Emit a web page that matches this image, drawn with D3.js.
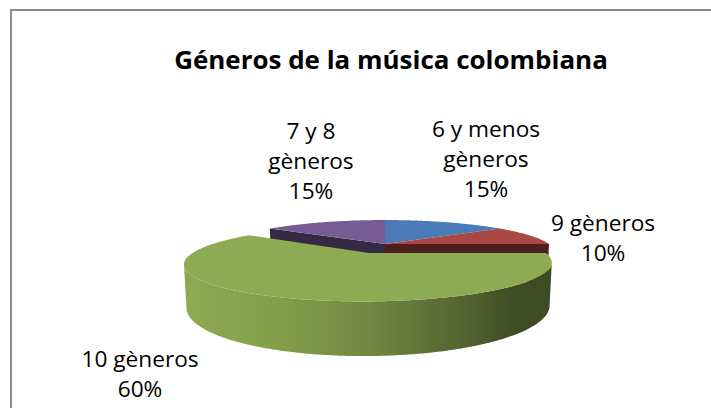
<!DOCTYPE html>
<html>
<head>
<meta charset="utf-8">
<script src="https://cdn.jsdelivr.net/npm/d3@7"></script>
<style>
  body { margin: 0; background: #fff; }
  svg { display: block; }
</style>
</head>
<body>
<svg id="chart" width="711" height="408"></svg>
<script>
// data
const title = "Géneros de la música colombiana";
const categories = ["6 y menos gèneros", "9 gèneros", "10 gèneros", "7 y 8 gèneros"];
const labelLines = [["6 y menos", "gèneros"], ["9 gèneros"], ["10 gèneros"], ["7 y 8", "gèneros"]];
const values = [15, 10, 60, 15];
const explode = [0, 0, 0.29, 0];
const colors = ["#4a7bb8", "#aa4643", "#8dab52", "#775b95"];

// layout (first baseline of each label block)
const labelPos = [[486, 137], [603, 231], [140, 367], [311, 139]];
const lineGap = 30;
const textStretch = 1.08;

const svg = d3.select("#chart");

// chart frame
svg.append("rect")
  .attr("x", 11).attr("y", 10)
  .attr("width", 720).attr("height", 420)
  .attr("fill", "#fff")
  .attr("stroke", "#8c8c8c")
  .attr("stroke-width", 2);

// simple perspective camera for the 3d pie
const cam = { cx: 385, cy: 244, D: 3.8, phi: 10.6 * Math.PI / 180 };
cam.f = 164 * cam.D;
const H = 0.235;
const cphi = Math.cos(cam.phi), sphi = Math.sin(cam.phi);
const camPos = [0, -cam.D * cphi, cam.D * sphi];

function project(X, Y, Z) {
  const d = cam.D + Y * cphi - Z * sphi;
  const up = Z * cphi + Y * sphi;
  return [cam.cx + cam.f * X / d, cam.cy - cam.f * up / d];
}

const pie = d3.pie().sort(null).value(d => d)(values);

const slices = pie.map((p, i) => {
  const mid = (p.startAngle + p.endAngle) / 2;
  const ox = explode[i] * Math.sin(mid), oy = explode[i] * Math.cos(mid);
  return { i, a0: p.startAngle, a1: p.endAngle, ox, oy, depth: cam.D + oy * cphi };
});

function rim(s, a, Z) {
  return project(s.ox + Math.sin(a), s.oy + Math.cos(a), Z);
}
function arcPts(s, a0, a1, Z) {
  const n = Math.max(2, Math.ceil((a1 - a0) / 0.01));
  return d3.range(n + 1).map(k => rim(s, a0 + (a1 - a0) * k / n, Z));
}
const line = d3.line();

function shade(col, k) {
  const c = d3.rgb(col);
  return d3.rgb(c.r * k, c.g * k, c.b * k).formatHex();
}

const defs = svg.append("defs");
const pieG = svg.append("g");

// farthest slices first
slices.slice().sort((a, b) => b.depth - a.depth).forEach(s => {
  const col = colors[s.i];
  const g = pieG.append("g");

  // outer wall: only the part that faces the camera
  const step = 0.005;
  let runs = [], cur = null;
  for (let a = s.a0; a <= s.a1 + 1e-9; a += step) {
    const px = s.ox + Math.sin(a), py = s.oy + Math.cos(a);
    const vis = Math.sin(a) * (camPos[0] - px) + Math.cos(a) * (camPos[1] - py) > 0;
    if (vis) { if (!cur) { cur = [a, a]; runs.push(cur); } cur[1] = Math.min(a, s.a1); }
    else cur = null;
  }
  runs.forEach((r, k) => {
    const top = arcPts(s, r[0], r[1], 0);
    const bot = arcPts(s, r[0], r[1], -H).reverse();
    const xs = top.map(p => p[0]);
    const gid = `wall${s.i}_${k}`;
    const grad = defs.append("linearGradient").attr("id", gid)
      .attr("gradientUnits", "userSpaceOnUse")
      .attr("x1", d3.min(xs)).attr("x2", d3.max(xs)).attr("y1", 0).attr("y2", 0);
    [[0, 1.0], [0.25, 0.93], [0.5, 0.8], [0.78, 0.57], [0.9, 0.45], [1, 0.44]].forEach(([o, k2]) => {
      grad.append("stop").attr("offset", o).attr("stop-color", shade(col, k2));
    });
    g.append("path").attr("d", line(top.concat(bot)) + "Z").attr("fill", `url(#${gid})`);
  });

  // radial cut faces next to an exploded neighbour
  const n = slices.length;
  [[s.a0, (s.i - 1 + n) % n, [-Math.cos(s.a0), Math.sin(s.a0)]],
   [s.a1, (s.i + 1) % n, [Math.cos(s.a1), -Math.sin(s.a1)]]].forEach(([a, nb, nrm]) => {
    if (explode[nb] === explode[s.i]) return;
    const facing = nrm[0] * (camPos[0] - s.ox) + nrm[1] * (camPos[1] - s.oy) > 0;
    if (!facing) return;
    const pts = [project(s.ox, s.oy, 0), rim(s, a, 0), rim(s, a, -H), project(s.ox, s.oy, -H)];
    g.append("path").attr("d", line(pts) + "Z").attr("fill", shade(col, 0.45));
  });

  // top face
  const topPts = [project(s.ox, s.oy, 0)].concat(arcPts(s, s.a0, s.a1, 0));
  g.append("path").attr("d", line(topPts) + "Z").attr("fill", col);
});

// title
svg.append("text")
  .attr("transform", `translate(391,69) scale(1.06,1)`)
  .attr("text-anchor", "middle")
  .style("font-family", "'Open Sans', 'Liberation Sans', sans-serif")
  .style("font-weight", "700")
  .style("font-size", "24.5px")
  .attr("fill", "#000")
  .text(title);

// data labels
const total = d3.sum(values);
slices.forEach(s => {
  const lines = labelLines[s.i].concat([Math.round(values[s.i] / total * 100) + "%"]);
  const [x, y] = labelPos[s.i];
  const t = svg.append("g").attr("class", "label").attr("data-category", categories[s.i]);
  lines.forEach((txt, k) => {
    t.append("text")
      .attr("transform", `translate(${x},${y + k * lineGap}) scale(${textStretch},1)`)
      .attr("text-anchor", "middle")
      .style("font-family", "'Open Sans', 'Liberation Sans', sans-serif")
      .style("font-size", "21px")
      .attr("fill", "#000")
      .text(txt);
  });
});
</script>
</body>
</html>
